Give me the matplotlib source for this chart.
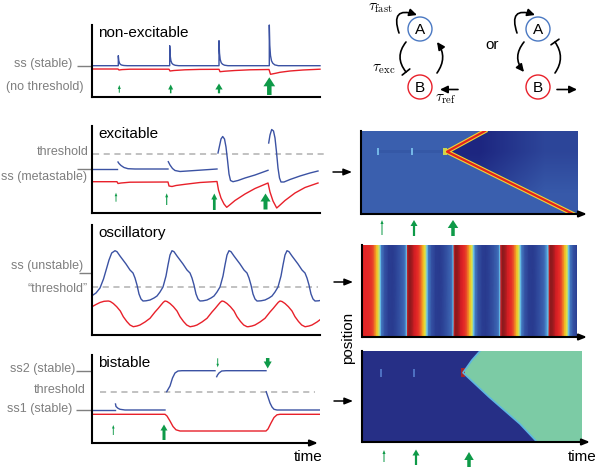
import numpy as np
import matplotlib
matplotlib.use("Agg")
import matplotlib.pyplot as plt
from matplotlib.colors import LinearSegmentedColormap
from matplotlib.patches import Polygon, Circle, Rectangle

plt.rcParams["font.family"] = ["Liberation Sans", "DejaVu Sans"]
plt.rcParams["mathtext.fontset"] = "cm"

# =====================================================
# DATA (time in arbitrary units, value in arbitrary units)
# =====================================================

# --- non-excitable ---
ne_blue_base = 31.3
ne_kicks = [26.3, 77.7, 127.0, 177.3]
ne_peaks = [41.3, 51.3, 56.3, 72.0]
spike_dt = [0, 0.5, 1.2, 2.2, 3.5, 5.5, 9.0]
spike_frac = [1.0, 0.5, 0.25, 0.12, 0.06, 0.02, 0.0]
ne_red_t = [0, 26, 27, 30, 38, 77, 78, 82, 93, 108, 127, 128, 133, 143, 158,
            177, 178.5, 184, 188, 198, 211, 228]
ne_red_v = [28, 28, 27, 27.4, 27.8, 27.8, 26, 26.5, 27.2, 27.6, 27.7, 25.3,
            25.8, 26.5, 27.2, 27.5, 22.7, 23.8, 24.7, 26, 27, 27.8]

# --- excitable ---
ex_thresh = 59
ex_ss = 44
ex_blue = [
    ([0, 25], [44, 44]),
    ([26, 27, 29, 32, 36, 43, 76], [51, 49.5, 47.5, 45.5, 44.3, 44, 44]),
    ([76.3, 78, 80.5, 83, 88, 103, 125], [51.3, 48, 44.5, 42.5, 41.5, 42.5, 44]),
    ([126, 127.5, 129, 130.7, 132.5, 134, 135.5, 137, 138.5, 141, 146, 153, 163, 176],
     [60, 67, 74, 76.5, 74, 66, 53, 39, 32.5, 31.3, 32.5, 35, 38, 42.7]),
    ([176.7, 178, 179.7, 181.5, 183, 184.5, 186, 187.5, 189, 192, 198, 208, 218, 226],
     [70, 78, 83.5, 82, 75, 61, 45, 35, 31, 31, 33.5, 37, 40, 42]),
]
ex_red_t = [0, 25, 26, 29, 38, 76, 77, 80, 84, 93, 108, 125, 126.5, 129, 132,
            134.7, 137, 143, 153, 163, 176, 178, 181, 184.7, 187, 193, 203, 213, 226]
ex_red_v = [31.3, 31.3, 29.5, 30, 30.8, 31, 27, 26.5, 27.5, 28.7, 30.5, 31.5, 23,
            15, 9, 5.7, 7.5, 12.5, 19, 24.5, 30, 21, 12, 5, 7, 12.5, 20, 25.5, 30]

# --- oscillatory ---
os_thresh = 48
os_ss = 61.7
os_blue_init_t = [0, 4, 8, 11.5, 14.7, 17, 19.7, 23]
os_blue_init_v = [39.3, 42, 47, 56, 67, 75, 82, 84.3]
os_blue_peaks = [23, 80, 137, 195, 252.5]
os_blue_dt = [-29, -26, -22, -18, -15, -12, -9, -6, -4, -2, 0, 2, 5, 8, 11, 15,
              18, 20, 22, 24, 26, 28]
os_blue_cyc = [34, 34.2, 35, 37, 39, 43, 48, 59, 70, 80, 84.3, 83.3, 79, 75, 71,
               65, 62, 57, 50, 41, 36, 34]
os_red_init_t = [0, 4, 8, 12, 16.3]
os_red_init_v = [28.3, 30.5, 32.5, 33.7, 34]
os_red_peaks = [16.3, 73, 130, 188, 245]
os_red_dt = [-31.7, -28, -25, -20, -15, -10, -6.7, -4, -1.7, 0, 2, 5, 8.4, 12,
             15, 18.5, 21.7, 25]
os_red_cyc = [8.3, 9, 10, 13, 16.7, 23, 26.7, 30, 32.7, 34, 33.5, 31.5, 28.3, 24,
              18.3, 13.5, 10, 8.3]

# --- bistable ---
bi_thresh = 51.3
bi_ss2 = 72.3
bi_ss1 = 33
bi_blue = [
    ([0, 23], [33, 33]),
    ([23.5, 24, 26, 28, 33, 73], [39, 36.5, 34.7, 33.7, 33, 33]),
    ([74.7, 78, 80.5, 83, 86, 90, 123], [51.3, 57, 65, 70, 72, 72.3, 72.3]),
    ([124.7, 125.5, 127, 129.7, 134, 174], [66.3, 68, 70, 72, 72.3, 72.3]),
    ([174.2, 176, 178, 180, 182, 185, 228], [51.3, 46, 40, 36, 33.7, 33, 33]),
]
bi_red_t = [0, 73, 75, 78, 81, 84, 88, 174, 176, 179, 182, 185, 188, 228]
bi_red_v = [28.7, 28.7, 27, 22, 16.5, 13.2, 12, 12, 14, 20, 25.5, 28.2, 28.7, 28.7]

# green stimulus arrows: (time, base, tip, shaft width, head width, head length)
ne_arrows = [(27.3, 4.3, 12, 1.0, 3.0, 4), (78.7, 3.7, 12.5, 1.5, 5.0, 5),
             (127, 3.7, 13.5, 2.2, 7.3, 6), (177.3, 2, 19.7, 4.5, 11.7, 9)]
ex_arrows = [(24, 11.3, 20.3, 0.9, 2.6, 3.5), (74.7, 8, 19.7, 1.1, 3.0, 4),
             (122.3, 3, 19.5, 2.7, 6.0, 6), (173.5, 3.5, 19.5, 4.0, 10.0, 8)]
bi_arrows = [(21.3, 8, 18, 0.9, 2.6, 3.5), (72, 3, 18.5, 3.0, 7.0, 6),
             (125.7, 84.7, 75.7, 0.9, 2.6, 3.5), (175.7, 85, 74.5, 3.5, 8.0, 7)]
k1_arrows = [(21, -21, -6, 1.0, 3.0, 4), (53, -22, -6, 2.2, 7.0, 6),
             (92, -22, -6, 3.5, 10.5, 8)]
k3_arrows = [(22, -20, -8, 1.0, 3.0, 4), (54, -23, -7.5, 2.2, 7.0, 6),
             (107, -25, -10, 3.5, 9.5, 8)]

# kymograph (excitable): front through position/time
k1_front_t = [124, 86, 212]
k1_front_v = [83, 62.3, 0]
k1_wedge = [(86, 62.3), (124, 83), (217, 83), (217, 0), (212, 0)]
k1_marks = [17, 51]
k1_wedge_shade = [[0.35, 0.9], [0.0, 0.55]]

# kymograph (oscillatory): colour value along time, one stripe profile
k2_init_t = [0, 4, 8, 11, 13, 15, 17, 18.5]
k2_init_c = [0.86, 0.86, 0.84, 0.78, 0.7, 0.6, 0.5, 0.42]
k2_starts = [-2.3, 44.7, 91.3, 138, 186.3]
k2_phase = [0, 1, 2.5, 5, 7.5, 10, 12.5, 14.5, 16.5, 18.5, 20.5, 22, 25, 29, 33,
            37, 41, 44.5, 46]
k2_prof = [0.42, 0.92, 1.0, 0.97, 0.9, 0.86, 0.8, 0.72, 0.62, 0.52, 0.42, 0.34,
           0.24, 0.15, 0.13, 0.19, 0.26, 0.32, 0.37]

# kymograph (bistable)
k3_front_t = [118, 110, 101, 127, 158, 175]
k3_front_v = [91, 82, 69.3, 45, 18, 0]
k3_marks = [19, 52]

BLUE = "#3b52a3"
RED = "#e8202a"
GREEN = "#0e9a48"
GRAY = "#7f7f7f"
DASH = "#b0b0b0"

jet = LinearSegmentedColormap.from_list("muted_jet", [
    (0.0, "#222c7c"), (0.15, "#2a3d92"), (0.3, "#3a5fae"), (0.38, "#4a8ccd"),
    (0.42, "#6cc5ea"), (0.48, "#b5dc8c"), (0.54, "#f4e524"), (0.66, "#f3a023"),
    (0.78, "#e9442a"), (0.88, "#e01f25"), (1.0, "#8a1a1d")])
navy = LinearSegmentedColormap.from_list("navy", ["#1d2680", "#3a5fae"])

W, H = 600, 469
fig = plt.figure(figsize=(6, 4.69), dpi=100)


def px_axes(x0, y0, x1, y1):
    ax = fig.add_axes([x0 / W, 1 - y1 / H, (x1 - x0) / W, (y1 - y0) / H])
    ax.set_xlim(0, x1 - x0)
    ax.set_ylim(0, y1 - y0)
    ax.patch.set_alpha(0)
    for s in ["top", "right"]:
        ax.spines[s].set_visible(False)
    for s in ["left", "bottom"]:
        ax.spines[s].set_linewidth(1.5)
    ax.set_xticks([])
    ax.set_yticks([])
    return ax


def trace_panel(ax, title, ticks, tick_len):
    ax.text(6, ax.get_ylim()[1] - 1, title, fontsize=11, va="top", ha="left")
    ax.set_yticks(ticks)
    ax.tick_params(axis="y", length=tick_len, width=1, color=GRAY,
                   labelleft=False)


def gray_label(ax, t, v, s):
    ax.text(t, v, s, fontsize=9, color=GRAY, ha="right", va="center",
            clip_on=False)


def green_arrows(ax, arrows):
    for t, b, tip, w, hw, hl in arrows:
        ax.arrow(t, b, 0, tip - b, width=w, head_width=hw, head_length=hl,
                 length_includes_head=True, color=GREEN, lw=0, clip_on=False)


def axis_arrow(ax, t_end):
    ax.spines["bottom"].set_visible(False)
    ax.annotate("", xy=(t_end, 0), xytext=(0, 0), annotation_clip=False,
                arrowprops=dict(arrowstyle="-|>,head_length=0.45,head_width=0.18",
                                lw=1.5, color="k", shrinkA=0, shrinkB=0))


def side_arrow(ax, v):
    ax.annotate("", xy=(-9, v), xytext=(-28, v), annotation_clip=False,
                arrowprops=dict(arrowstyle="-|>,head_length=0.5,head_width=0.2",
                                lw=1.1, color="k", shrinkA=0, shrinkB=0))


# 1. non-excitable
ax1 = px_axes(92, 25, 320, 97)
trace_panel(ax1, "non-excitable", [ne_blue_base], 10.8)
bt, bv = [0], [ne_blue_base]
for k, pk in zip(ne_kicks, ne_peaks):
    bt += [k] + [k + d for d in spike_dt]
    bv += [ne_blue_base] + [ne_blue_base + (pk - ne_blue_base) * f for f in spike_frac]
bt.append(228)
bv.append(ne_blue_base)
ax1.plot(ne_red_t, ne_red_v, color=RED, lw=1.0, clip_on=False)
ax1.plot(bt, bv, color=BLUE, lw=1.0, clip_on=False)
gray_label(ax1, -20, 33, "ss (stable)")
gray_label(ax1, -9, 9.7, "(no threshold)")
green_arrows(ax1, ne_arrows)

# 2. excitable
ax2 = px_axes(92, 126, 320, 213)
trace_panel(ax2, "excitable", [ex_ss], 10.8)
ax2.plot([1, 236], [ex_thresh, ex_thresh], color=DASH, lw=1.1, ls=(0, (4, 3)),
         clip_on=False)
ax2.plot(ex_red_t, ex_red_v, color=RED, lw=1.0)
for t, v in ex_blue:
    ax2.plot(t, v, color=BLUE, lw=1.0)
gray_label(ax2, -3, 60.7, "threshold")
gray_label(ax2, -5, 36.3, "ss (metastable)")
green_arrows(ax2, ex_arrows)

# 3. oscillatory
ax3 = px_axes(92, 225, 320, 335)
trace_panel(ax3, "oscillatory", [os_ss], 9.4)
ax3.plot([0, 226], [os_thresh, os_thresh], color=DASH, lw=1.1, ls=(0, (4, 3)))
bt, bv = list(os_blue_init_t), list(os_blue_init_v)
for i, p in enumerate(os_blue_peaks):
    for d, v in zip(os_blue_dt, os_blue_cyc):
        if i == 0 and d <= 0:
            continue
        bt.append(p + d)
        bv.append(v)
rt, rv = list(os_red_init_t), list(os_red_init_v)
for i, p in enumerate(os_red_peaks):
    for d, v in zip(os_red_dt, os_red_cyc):
        if i == 0 and d <= 0:
            continue
        rt.append(p + d)
        rv.append(v)
ax3.plot(rt, rv, color=RED, lw=1.0)
ax3.plot(bt, bv, color=BLUE, lw=1.0)
gray_label(ax3, -9, 69.3, "ss (unstable)")
gray_label(ax3, -4, 46, "\u201cthreshold\u201d")

# 4. bistable
ax4 = px_axes(92, 355, 320, 443)
trace_panel(ax4, "bistable", [bi_ss2, bi_ss1], 11.2)
axis_arrow(ax4, 226)
ax4.plot([8, 223], [bi_thresh, bi_thresh], color=DASH, lw=1.1, ls=(0, (4, 3)),
         clip_on=False)
ax4.plot(bi_red_t, bi_red_v, color=RED, lw=1.0)
for t, v in bi_blue:
    ax4.plot(t, v, color=BLUE, lw=1.0)
gray_label(ax4, -17, 74, "ss2 (stable)")
gray_label(ax4, -6, 53, "threshold")
gray_label(ax4, -19.3, 34, "ss1 (stable)")
green_arrows(ax4, bi_arrows)
ax4.text(216, -14, "time", fontsize=11, ha="center", va="center", clip_on=False)

# 5. kymograph, excitable
k1 = px_axes(361, 131, 578, 214)
k1.set_facecolor(jet(0.3))
k1.patch.set_alpha(1)
axis_arrow(k1, 226)
wedge = Polygon(k1_wedge, closed=True, fc="none", ec="none")
k1.add_patch(wedge)
im = k1.imshow(k1_wedge_shade, cmap=navy, vmin=0, vmax=1, origin="lower",
               extent=(86, 217, 0, 83), aspect="auto", interpolation="bilinear")
im.set_clip_path(wedge)
k1.add_patch(Rectangle((k1_marks[0], 60.5), 65, 3.5, color="#3558a6", lw=0))
for m in k1_marks:
    k1.add_patch(Rectangle((m - 1, 59), 2, 7, color="#73b6e6", lw=0))
k1.add_patch(Rectangle((81.5, 59), 4.5, 7, color="#c9d64f", lw=0))
k1.plot(k1_front_t, k1_front_v, color="#f2d531", lw=3.2)
k1.plot(k1_front_t, k1_front_v, color="#e2231f", lw=1.6)
k1.set_xlim(0, 217)
k1.set_ylim(0, 83)
side_arrow(k1, 42)
green_arrows(k1, k1_arrows)

# 6. kymograph, oscillatory
k2 = px_axes(362, 245, 577, 337)
axis_arrow(k2, 225)
ct, cv = list(k2_init_t), list(k2_init_c)
for i, s in enumerate(k2_starts):
    for ph, c in zip(k2_phase, k2_prof):
        if i == 0 and ph < 22:
            continue
        ct.append(s + ph)
        cv.append(c)
ct = np.array(ct)
cv = np.array(cv)
k2.pcolormesh(np.vstack([ct, ct]), np.vstack([np.zeros_like(ct), np.full_like(ct, 92)]),
              np.vstack([cv, cv]), cmap=jet, vmin=0, vmax=1, shading="gouraud")
k2.set_xlim(0, 215)
k2.set_ylim(0, 92)
side_arrow(k2, 55)

# 7. kymograph, bistable
k3 = px_axes(362, 351, 582, 442)
k3.set_facecolor("#262f86")
k3.patch.set_alpha(1)
axis_arrow(k3, 228)
green_pts = list(zip(k3_front_t, k3_front_v)) + [(220, 0), (220, 91)]
k3.add_patch(Polygon(green_pts, closed=True, fc="#7ccba5", ec="none"))
k3.plot(k3_front_t, k3_front_v, color="#5eb7e2", lw=1.2)
for m in k3_marks:
    k3.add_patch(Rectangle((m - 1, 65.5), 2, 7.5, color="#4d6fc1", lw=0))
k3.add_patch(Rectangle((99, 65), 4, 9, color="#a3262a", lw=0))
k3.set_xlim(0, 220)
k3.set_ylim(0, 91)
side_arrow(k3, 41)
green_arrows(k3, k3_arrows)
k3.text(220.5, -14.7, "time", fontsize=11, ha="center", va="center", clip_on=False)

# 8. network diagrams and remaining labels
ov = fig.add_axes([0, 0, 1, 1])
ov.set_xlim(0, W)
ov.set_ylim(H, 0)
ov.axis("off")
ov.text(348, 338, "position", rotation=90, fontsize=11, ha="center", va="center")

arrow_head = "-|>,head_length=0.45,head_width=0.22"
bar_end = "-[,widthB=0.35,lengthB=0"


def link(p0, p1, rad, style):
    ov.annotate("", xy=p1, xytext=p0,
                arrowprops=dict(arrowstyle=style, connectionstyle=f"arc3,rad={rad}",
                                lw=1.2, color="k", shrinkA=0, shrinkB=0))


for cx, a_to_b, b_to_a in [(420, bar_end, arrow_head), (538, arrow_head, bar_end)]:
    ov.add_patch(Circle((cx, 29), 12, fill=False, ec="#4a78c2", lw=1.0))
    ov.add_patch(Circle((cx, 87), 12, fill=False, ec="#e8202a", lw=1.0))
    ov.text(cx, 29.5, "A", fontsize=11, ha="center", va="center")
    ov.text(cx, 87.5, "B", fontsize=11, ha="center", va="center")
    link((cx - 21, 33), (cx - 3, 15), -1.0, arrow_head)
    link((cx - 14, 42), (cx - 14, 72), 0.4, a_to_b)
    link((cx + 17, 73), (cx + 17, 42), 0.35, b_to_a)

link((458, 89.5), (440, 89.5), 0, arrow_head)
link((557, 89.5), (577, 89.5), 0, arrow_head)
ov.text(381, 8, r"$\tau_{\rm fast}$", fontsize=11, ha="center", va="center")
ov.text(384, 69, r"$\tau_{\rm exc}$", fontsize=11, ha="center", va="center")
ov.text(446, 99, r"$\tau_{\rm ref}$", fontsize=11, ha="center", va="center")
ov.text(492, 45, "or", fontsize=11, ha="center", va="center")

fig.savefig("out.png", dpi=100)
